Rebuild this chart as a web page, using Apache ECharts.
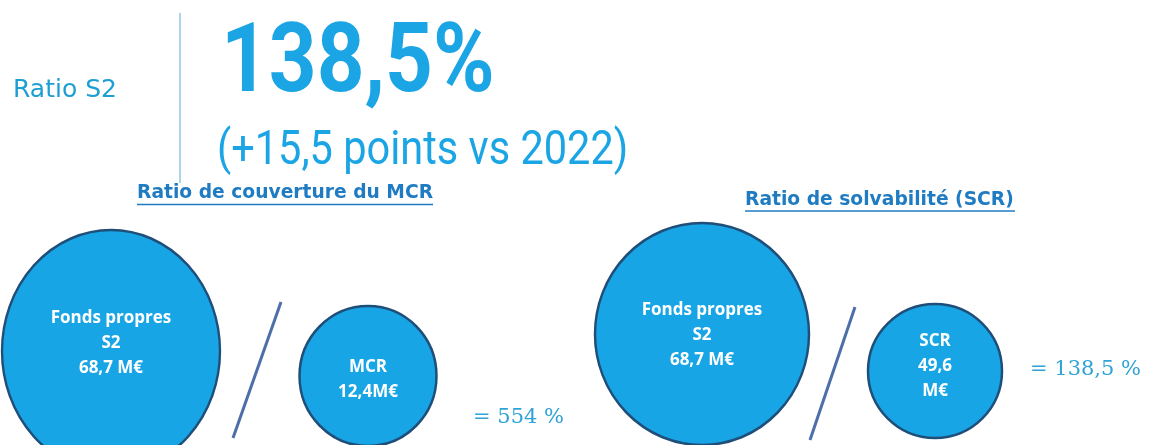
<!DOCTYPE html>
<html>
<head>
<meta charset="utf-8">
<script src="https://cdn.jsdelivr.net/npm/echarts@6/dist/echarts.min.js"></script>
<style>
  html, body { margin: 0; padding: 0; background: #fff; }
  #chart { width: 1149px; height: 445px; }
</style>
</head>
<body>
<div id="chart"></div>
<script>
// chiffres affichés
var headerLabel = 'Ratio S2';
var headerValue = '138,5%';
var headerDelta = '(+15,5 points vs 2022)';
var panelTitles = ['Ratio de couverture du MCR', 'Ratio de solvabilité (SCR)'];
var numeratorLabels = ['Fonds propres\nS2\n68,7 M€', 'Fonds propres\nS2\n68,7 M€'];
var denominatorLabels = ['MCR\n12,4M€', 'SCR\n49,6\nM€'];
var resultLabels = ['= 554 %', '= 138,5 %'];

// mise en page (pixels), une entrée par panneau
var layout = [
    {
        title: [137, 193.5, 296],
        big: { center: [111, 351], size: [218, 242], offset: [0, -8] },
        small: { center: [368, 376], size: [137, 140], offset: [0, 4] },
        slash: [[281, 302], [233, 438]],
        result: [473, 418]
    },
    {
        title: [745, 200, 270],
        big: { center: [702, 334], size: [214, 222], offset: [0, 1] },
        small: { center: [935, 371], size: [134, 134], offset: [0, -5] },
        slash: [[855, 307], [810, 440]],
        result: [1030, 370]
    }
];

var W = 1149, H = 445;
var fill = '#17a5e5';
var border = '#1f4e79';
var titleBlue = '#1f7bc2';
var textBlue = '#1ba5e4';

var bubbles = [];
var slashes = [];
layout.forEach(function (p, i) {
    bubbles.push({
        value: p.big.center,
        symbolSize: p.big.size,
        name: numeratorLabels[i],
        label: { offset: p.big.offset }
    });
    bubbles.push({
        value: p.small.center,
        symbolSize: p.small.size,
        name: denominatorLabels[i],
        label: { offset: p.small.offset }
    });
    slashes.push({ coords: p.slash });
});

var graphics = [
    {
        type: 'line',
        shape: { x1: 180, y1: 13, x2: 180, y2: 183 },
        style: { stroke: '#8cc8e6', lineWidth: 1.5 }
    },
    {
        type: 'text', x: 13, y: 90,
        style: { text: headerLabel, font: '25px "DejaVu Sans"', fill: '#1e9fd3', textVerticalAlign: 'middle' }
    },
    {
        type: 'text', x: 221, y: 67, scaleX: 0.86,
        style: { text: headerValue, font: 'bold 97px Roboto', fill: textBlue, textVerticalAlign: 'middle' }
    },
    {
        type: 'text', x: 217, y: 152, scaleX: 0.865,
        style: { text: headerDelta, font: '48px Roboto', fill: textBlue, textVerticalAlign: 'middle' }
    }
];

layout.forEach(function (p, i) {
    graphics.push({
        type: 'text', x: p.title[0], y: p.title[1],
        style: { text: panelTitles[i], font: 'bold 18.7px "DejaVu Sans"', fill: titleBlue, textVerticalAlign: 'middle' }
    });
    graphics.push({
        type: 'line',
        shape: { x1: p.title[0], y1: p.title[1] + 11, x2: p.title[0] + p.title[2], y2: p.title[1] + 11 },
        style: { stroke: titleBlue, lineWidth: 1.5 }
    });
    graphics.push({
        type: 'text', x: p.result[0], y: p.result[1],
        style: { text: resultLabels[i], font: '21px "DejaVu Serif"', fill: '#2fa3d6', textVerticalAlign: 'middle' }
    });
});

var chart = echarts.init(document.getElementById('chart'));
chart.setOption({
    animation: false,
    grid: { left: 0, right: 0, top: 0, bottom: 0 },
    xAxis: { type: 'value', min: 0, max: W, show: false },
    yAxis: { type: 'value', min: 0, max: H, inverse: true, show: false },
    graphic: graphics,
    series: [
        {
            type: 'scatter',
            silent: true,
            clip: false,
            symbol: 'circle',
            data: bubbles,
            itemStyle: { color: fill, borderColor: border, borderWidth: 2.5, opacity: 1 },
            label: {
                show: true,
                position: 'inside',
                formatter: function (params) { return params.name; },
                color: '#fff',
                fontFamily: '"Open Sans"',
                fontWeight: 'bold',
                fontSize: 17,
                lineHeight: 25
            }
        },
        {
            type: 'lines',
            coordinateSystem: 'cartesian2d',
            silent: true,
            data: slashes,
            lineStyle: { color: '#4d6ea8', width: 3, opacity: 1 }
        }
    ]
});
</script>
</body>
</html>
